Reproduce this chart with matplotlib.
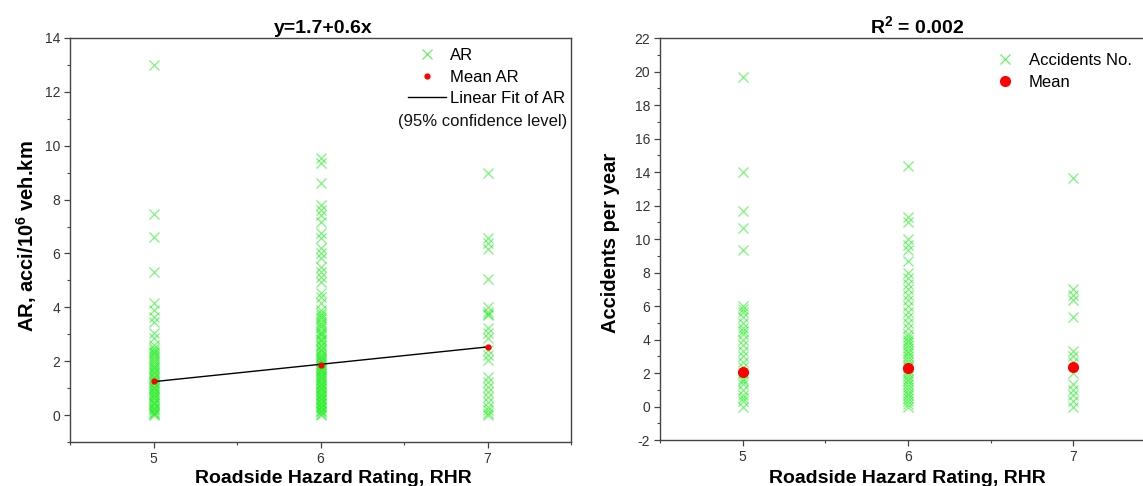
import numpy as np
import matplotlib
matplotlib.use('Agg')
import matplotlib.pyplot as plt
from matplotlib.ticker import MultipleLocator
from matplotlib.lines import Line2D

plt.rcParams['font.family'] = ['Liberation Sans', 'DejaVu Sans']
plt.rcParams['mathtext.fontset'] = 'custom'
plt.rcParams['mathtext.rm'] = 'Liberation Sans:bold'
plt.rcParams['mathtext.it'] = 'Liberation Sans:bold'
plt.rcParams['mathtext.bf'] = 'Liberation Sans:bold'
plt.rcParams['axes.unicode_minus'] = False

# ---------------- data ----------------
rhr_levels = [5, 6, 7]
x_ticks = [5, 6, 7]

# Left panel: accident rate (AR) per RHR level
ar_rhr5 = [13.0, 7.46, 6.62, 5.31, 4.15, 3.9, 3.65, 3.47, 3.04, 2.86, 2.6,
           2.5, 2.43, 2.36, 2.3, 2.22, 2.15, 2.07, 2.0, 1.93, 1.87, 1.8, 1.74,
           1.68, 1.6, 1.55, 1.5, 1.43, 1.37, 1.3, 1.24, 1.18, 1.12, 1.06, 1.0,
           0.95, 0.9, 0.84, 0.78, 0.73, 0.67, 0.62, 0.56, 0.5, 0.45, 0.4, 0.34,
           0.28, 0.23, 0.18, 0.12, 0.08, 0.03, 0.0]
ar_rhr6 = [9.53, 9.35, 8.6, 7.8, 7.6, 7.43, 7.18, 6.75, 6.57, 6.2, 6.0, 5.83,
           5.5, 5.32, 5.13, 4.95, 4.52, 4.39, 4.15, 3.9, 3.8, 3.72, 3.64, 3.55,
           3.47, 3.38, 3.3, 3.22, 3.13, 3.06, 3.0, 2.92, 2.84, 2.77, 2.7, 2.62,
           2.55, 2.47, 2.4, 2.33, 2.27, 2.21, 2.16, 2.1, 2.04, 1.99, 1.94, 1.88,
           1.83, 1.78, 1.72, 1.67, 1.62, 1.57, 1.52, 1.46, 1.41, 1.36, 1.31,
           1.26, 1.2, 1.15, 1.1, 1.05, 1.0, 0.95, 0.9, 0.85, 0.8, 0.75, 0.7,
           0.65, 0.6, 0.55, 0.5, 0.45, 0.4, 0.35, 0.3, 0.25, 0.2, 0.15, 0.1,
           0.05, 0.0]
ar_rhr7 = [9.0, 6.56, 6.38, 6.15, 5.07, 4.02, 3.84, 3.76, 3.71, 3.22, 3.03,
           2.85, 2.41, 2.23, 2.04, 1.42, 1.24, 1.05, 0.87, 0.68, 0.49, 0.31,
           0.2, 0.06, 0.0]
mean_ar = [1.26, 1.85, 2.54]
fit_x = [5, 7]
fit_y = [1.24, 2.53]

# Right panel: accidents per year per RHR level
acc_rhr5 = [19.67, 14.0, 11.67, 10.67, 9.33, 6.0, 5.83, 5.67, 5.33, 5.0, 4.67,
            4.5, 4.33, 4.0, 3.67, 3.33, 3.0, 2.67, 2.33, 2.0, 1.67, 1.5, 1.33,
            1.0, 0.67, 0.5, 0.33, 0.0]
acc_rhr6 = [14.33, 11.33, 11.0, 10.0, 9.67, 9.33, 8.67, 8.0, 7.67, 7.33, 7.0,
            6.67, 6.33, 6.0, 5.67, 5.33, 5.0, 4.67, 4.33, 4.17, 4.0, 3.83, 3.67,
            3.5, 3.33, 3.17, 3.0, 2.83, 2.67, 2.5, 2.33, 2.17, 2.0, 1.83, 1.67,
            1.5, 1.33, 1.17, 1.0, 0.83, 0.67, 0.5, 0.33, 0.17, 0.0]
acc_rhr7 = [13.67, 7.0, 6.67, 6.33, 5.33, 3.33, 3.0, 2.67, 2.0, 1.33, 1.0,
            0.67, 0.33, 0.0]
mean_acc = [2.08, 2.28, 2.38]

# ---------------- styling ----------------
W, H = 1143, 486
fig = plt.figure(figsize=(W / 100, H / 100), dpi=100)

def fx(px):
    return px / W

def fy(py):
    return 1 - py / H

green = '#22ee22'
spine_c = '#444444'
tick_c = '#333333'
ms_x, mew_x, a_x = 6.5, 0.9, 0.6

ax1 = fig.add_axes([fx(70), fy(442), fx(571) - fx(70), fy(38) - fy(442)])
ax2 = fig.add_axes([fx(660), fy(440), fx(1156) - fx(660), fy(38) - fy(440)])

def style(ax):
    for s in ax.spines.values():
        s.set_color(spine_c)
        s.set_linewidth(1.0)
    ax.tick_params(which='both', direction='out', color=spine_c,
                   labelcolor=tick_c, labelsize=10, top=False, right=False)
    ax.tick_params(which='major', length=4, width=0.9, pad=3)
    ax.tick_params(which='minor', length=2.5, width=0.8)
    ax.set_xlim(4.5, 7.5)
    ax.set_xticks(x_ticks)
    ax.xaxis.set_minor_locator(MultipleLocator(0.5))
    ax.yaxis.set_major_locator(MultipleLocator(2))
    ax.yaxis.set_minor_locator(MultipleLocator(1))

# ---- left panel ----
style(ax1)
ax1.set_ylim(-1, 14)
for lvl, vals in zip(rhr_levels, [ar_rhr5, ar_rhr6, ar_rhr7]):
    ax1.plot(np.full(len(vals), lvl), vals, linestyle='none', marker='x',
             markersize=ms_x, markeredgewidth=mew_x, color=green, alpha=a_x)
ax1.plot(fit_x, fit_y, color='black', lw=1.0, zorder=3)
ax1.plot(rhr_levels, mean_ar, linestyle='none', marker='o', markersize=3.5,
         color='red', zorder=4)

h_ar = Line2D([], [], linestyle='none', marker='x', markersize=ms_x,
              markeredgewidth=mew_x, color=green, alpha=0.7)
h_mean = Line2D([], [], linestyle='none', marker='o', markersize=3.5, color='red')
h_fit = Line2D([], [], color='black', lw=1.0)
leg1 = ax1.legend([h_ar, h_mean, h_fit], ['AR', 'Mean AR', 'Linear Fit of AR'],
                  loc='upper left', bbox_to_anchor=(fx(408), fy(48)),
                  bbox_transform=fig.transFigure, frameon=False, fontsize=12,
                  handlelength=2.3, handletextpad=0.2, labelspacing=0.4,
                  borderpad=0, borderaxespad=0, numpoints=1)
fig.text(fx(567), fy(121), '(95% confidence level)', fontsize=12,
         ha='right', va='center', color='#111111')

fig.text(fx(323), fy(33), 'y=1.7+0.6x', fontsize=14, fontweight='bold',
         ha='center', va='baseline')
fig.text(fx(333), fy(483), 'Roadside Hazard Rating, RHR', fontsize=14,
         fontweight='bold', ha='center', va='baseline')
fig.text(fx(27), fy(236), r'AR, acci/10$^6$ veh.km', fontsize=14.5,
         fontweight='bold', rotation=90, ha='center', va='center')

# ---- right panel ----
style(ax2)
ax2.set_ylim(-2, 22)
for lvl, vals in zip(rhr_levels, [acc_rhr5, acc_rhr6, acc_rhr7]):
    ax2.plot(np.full(len(vals), lvl), vals, linestyle='none', marker='x',
             markersize=ms_x, markeredgewidth=mew_x, color=green, alpha=a_x)
ax2.plot(rhr_levels, mean_acc, linestyle='none', marker='o', markersize=7,
         color='red', zorder=4)

h_acc = Line2D([], [], linestyle='none', marker='x', markersize=ms_x,
               markeredgewidth=mew_x, color=green, alpha=0.7)
h_mean2 = Line2D([], [], linestyle='none', marker='o', markersize=7, color='red')
leg2 = ax2.legend([h_acc, h_mean2], ['Accidents No.', 'Mean'],
                  loc='upper left', bbox_to_anchor=(fx(988), fy(53)),
                  bbox_transform=fig.transFigure, frameon=False, fontsize=12,
                  handlelength=2.0, handletextpad=0.45, labelspacing=0.42,
                  borderpad=0, borderaxespad=0, numpoints=1)

fig.text(fx(917), fy(33), r'R$^2$ = 0.002', fontsize=14, fontweight='bold',
         ha='center', va='baseline')
fig.text(fx(907), fy(483), 'Roadside Hazard Rating, RHR', fontsize=14,
         fontweight='bold', ha='center', va='baseline')
fig.text(fx(611), fy(243), 'Accidents per year', fontsize=14.5,
         fontweight='bold', rotation=90, ha='center', va='center')

fig.savefig('out.png', dpi=100)
